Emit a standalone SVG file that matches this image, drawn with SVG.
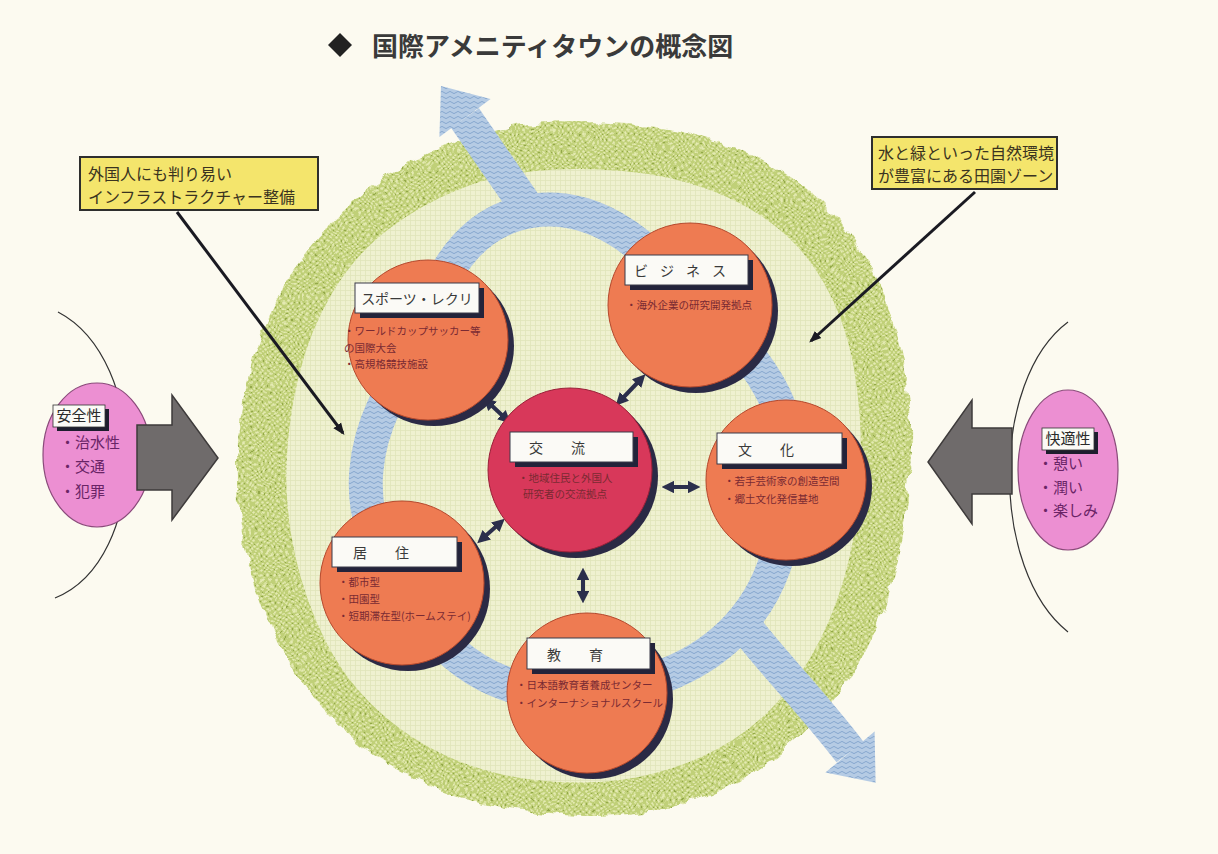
<svg xmlns="http://www.w3.org/2000/svg" width="1218" height="854" viewBox="0 0 1218 854">
<defs>
<pattern id="dots" width="6" height="6" patternUnits="userSpaceOnUse">
<rect width="6" height="6" fill="#c0d078"/>
<circle cx="1.5" cy="1.5" r="1.3" fill="#e4eab2"/>
<circle cx="4.5" cy="4.5" r="1.3" fill="#e4eab2"/>
<circle cx="4.5" cy="1.5" r="0.7" fill="#93a84a"/>
</pattern>
<pattern id="grid" width="5" height="5" patternUnits="userSpaceOnUse">
<rect width="5" height="5" fill="#eff1d0"/>
<path d="M0,0.5H5M0.5,0V5" stroke="#e0e5ba" stroke-width="0.8"/>
</pattern>
<pattern id="wave" width="8" height="5" patternUnits="userSpaceOnUse">
<rect width="8" height="5" fill="#b5cbe4"/>
<path d="M0,2.5 q2,-2.2 4,0 t4,0" fill="none" stroke="#86a7cf" stroke-width="1"/>
</pattern>
<filter id="rough" x="-5%" y="-5%" width="110%" height="110%">
<feTurbulence type="fractalNoise" baseFrequency="0.06" numOctaves="2" seed="3"/>
<feDisplacementMap in="SourceGraphic" scale="12" xChannelSelector="R" yChannelSelector="G"/>
</filter>
<marker id="ah" viewBox="0 0 10 10" refX="5" refY="5" markerWidth="3.2" markerHeight="3.2" orient="auto-start-reverse" markerUnits="strokeWidth">
<path d="M0,0 L10,5 L0,10 Z" fill="#2b2f4c"/>
</marker>
<marker id="ptr" viewBox="0 0 10 10" refX="8" refY="5" markerWidth="4" markerHeight="4" orient="auto" markerUnits="strokeWidth">
<path d="M0,1 L10,5 L0,9 Z" fill="#1a1a22"/>
</marker>
<style>
.jp{font-family:'Noto Sans CJK JP','Noto Sans CJK SC',sans-serif}
.circ{fill:#ee7b52;stroke:#b5482c;stroke-width:1}
.shad{fill:#2b2a45}
.lbl{fill:#fbfaf6;stroke:#3a3a48;stroke-width:1}
.lshad{fill:#23233a}
.lt{font-size:14px;fill:#3a3a3a;text-anchor:middle}
.it{font-size:10.5px;fill:#7a2a32}
.pk{fill:#ec8fd2;stroke:#8a4a7a;stroke-width:1.2}
.pi{font-size:15px;fill:#6a2466}
.pl{font-size:15px;fill:#2a2a2a}
.yb{fill:#f4e56c;stroke:#2e2e2e;stroke-width:2}
.yt{font-size:16px;fill:#3a3320}
.gray{fill:#6f6b6b;stroke:#3e3b3b;stroke-width:1.5}
.river{fill:none;stroke:url(#wave);stroke-width:34;stroke-linecap:butt}
.con{stroke:#2b2f4c;stroke-width:4;marker-start:url(#ah);marker-end:url(#ah)}
.pt{stroke:#1a1a22;stroke-width:3;marker-end:url(#ptr)}
</style>
</defs>
<rect width="1218" height="854" fill="#fcfaf0"/>

<g id="title">
<path d="M340,33 L352,45 L340,57 L328,45 Z" fill="#222"/>
<text class="jp" x="372" y="56" font-size="26" font-weight="600" fill="#3a3a3a">国際アメニティタウンの概念図</text>
</g>

<g id="zone">
<path filter="url(#rough)" fill="url(#dots)" d="M 532.5,124 Q 575,120 627.5,124 Q 680,128 725,144 Q 770,160 805,187.5 Q 840,215 862.5,252.5 Q 885,290 897.5,335 Q 910,380 911,425 Q 912,470 906,515 Q 900,560 885,605 Q 870,650 845,685 Q 820,720 785,750 Q 750,780 705,796 Q 660,812 617.5,815 Q 575,818 527.5,811.5 Q 480,805 435,787.5 Q 390,770 355,740 Q 320,710 295,670 Q 270,630 255,585 Q 240,540 237.5,495 Q 235,450 242.5,405 Q 250,360 267.5,320 Q 285,280 312.5,245 Q 340,210 375,185 Q 410,160 450,144 Q 490,128 532.5,124 Z"/>
<path fill="url(#grid)" d="M 535,171 Q 575,167 622.5,171 Q 670,175 710,190 Q 750,205 780,230 Q 810,255 829,292.5 Q 848,330 855,375 Q 862,420 861,465 Q 860,510 850,555 Q 840,600 820,640 Q 800,680 770,710 Q 740,740 700,757.5 Q 660,775 620,780 Q 580,785 535,780 Q 490,775 450,757.5 Q 410,740 377.5,710 Q 345,680 325,640 Q 305,600 295,555 Q 285,510 286.5,465 Q 288,420 299,375 Q 310,330 332.5,292.5 Q 355,255 387.5,230 Q 420,205 457.5,190 Q 495,175 535,171 Z"/>
</g>

<g id="river">
<path class="river" d="M428,330 C450,190 600,160 690,305"/>
<path class="river" d="M690,305 C760,350 800,420 786,480"/>
<path class="river" d="M786,480 C790,600 720,680 587,693"/>
<path class="river" d="M587,693 C500,700 440,660 402,583"/>
<path class="river" d="M402,583 C350,520 350,430 428,340"/>
<path class="river" d="M530,212 L465,118"/>
<polygon points="441,86 490.6,99.1 439.4,136.9" fill="url(#wave)"/>
<path class="river" d="M740,620 C770,660 810,700 850,752"/>
<polygon points="875.6,782.8 874.6,731.5 825.4,772.5" fill="url(#wave)"/>
</g>

<g id="connectors">
<line class="con" x1="488" y1="402" x2="506" y2="419"/>
<line class="con" x1="620" y1="401" x2="641" y2="379"/>
<line class="con" x1="668" y1="487" x2="694" y2="487"/>
<line class="con" x1="482" y1="539" x2="500" y2="523"/>
<line class="con" x1="583" y1="574" x2="583" y2="597"/>
<line class="pt" x1="177" y1="212" x2="343" y2="433"/>
<line class="pt" x1="975" y1="192" x2="811" y2="341"/>
</g>

<g id="sports">
<circle class="shad" cx="434" cy="346" r="80"/>
<circle class="circ" cx="428" cy="340" r="80"/>
<rect class="lshad" x="360" y="288" width="124" height="30"/>
<rect class="lbl" x="355" y="283" width="124" height="30"/>
<text class="jp lt" x="417" y="304">スポーツ・レクリ</text>
<text class="jp it" x="344" y="335">・ワールドカップサッカー等</text>
<text class="jp it" x="344" y="352">の国際大会</text>
<text class="jp it" x="344" y="368">・高規格競技施設</text>
</g>

<g id="business">
<circle class="shad" cx="696" cy="311" r="82"/>
<circle class="circ" cx="690" cy="305" r="82"/>
<rect class="lshad" x="630" y="260" width="123" height="30"/>
<rect class="lbl" x="625" y="255" width="123" height="30"/>
<text class="jp lt" x="686" y="276" letter-spacing="12">ビジネス</text>
<text class="jp it" x="626" y="309">・海外企業の研究開発拠点</text>
</g>

<g id="exchange">
<circle class="shad" cx="576" cy="476" r="82"/>
<circle cx="570" cy="470" r="82" fill="#d8385a" stroke="#9a2038" stroke-width="1"/>
<rect class="lshad" x="515" y="437" width="123" height="30"/>
<rect class="lbl" x="510" y="432" width="123" height="30"/>
<text class="jp lt" x="571" y="453" letter-spacing="28">交流</text>
<text class="jp it" x="518" y="482">・地域住民と外国人</text>
<text class="jp it" x="523" y="498">研究者の交流拠点</text>
</g>

<g id="culture">
<circle class="shad" cx="792" cy="486" r="80"/>
<circle class="circ" cx="786" cy="480" r="80"/>
<rect class="lshad" x="722" y="438" width="125" height="31"/>
<rect class="lbl" x="717" y="433" width="125" height="31"/>
<text class="jp lt" x="780" y="455" letter-spacing="28">文化</text>
<text class="jp it" x="724" y="485">・若手芸術家の創造空間</text>
<text class="jp it" x="724" y="503">・郷土文化発信基地</text>
</g>

<g id="living">
<circle class="shad" cx="408" cy="589" r="82"/>
<circle class="circ" cx="402" cy="583" r="82"/>
<rect class="lshad" x="337" y="542" width="125" height="30"/>
<rect class="lbl" x="332" y="537" width="125" height="30"/>
<text class="jp lt" x="395" y="558" letter-spacing="28">居住</text>
<text class="jp it" x="338" y="586">・都市型</text>
<text class="jp it" x="338" y="603">・田園型</text>
<text class="jp it" x="338" y="620">・短期滞在型(ホームステイ)</text>
</g>

<g id="education">
<circle class="shad" cx="593" cy="699" r="80"/>
<circle class="circ" cx="587" cy="693" r="80"/>
<rect class="lshad" x="532" y="643" width="123" height="31"/>
<rect class="lbl" x="527" y="638" width="123" height="31"/>
<text class="jp lt" x="589" y="660" letter-spacing="28">教育</text>
<text class="jp it" x="516" y="689">・日本語教育者養成センター</text>
<text class="jp it" x="516" y="707">・インターナショナルスクール</text>
</g>

<g id="safety">
<path d="M58,312 C150,360 150,560 55,598" fill="none" stroke="#333" stroke-width="1.2"/>
<ellipse class="pk" cx="97" cy="455" rx="54" ry="72"/>
<rect x="57" y="409" width="52" height="22" fill="#1e1e2e"/>
<rect x="53" y="405" width="52" height="22" fill="#fbfaf6" stroke="#333" stroke-width="0.8"/>
<text class="jp pl" x="79" y="421" text-anchor="middle">安全性</text>
<text class="jp pi" x="60" y="448">・治水性</text>
<text class="jp pi" x="60" y="472">・交通</text>
<text class="jp pi" x="60" y="497">・犯罪</text>
</g>

<g id="comfort">
<path d="M1068,322 C990,380 990,570 1068,632" fill="none" stroke="#333" stroke-width="1.2"/>
<ellipse class="pk" cx="1068" cy="470" rx="50" ry="80"/>
<rect x="1046" y="432" width="52" height="22" fill="#1e1e2e"/>
<rect x="1042" y="428" width="52" height="22" fill="#fbfaf6" stroke="#333" stroke-width="0.8"/>
<text class="jp pl" x="1068" y="444" text-anchor="middle">快適性</text>
<text class="jp pi" x="1038" y="469">・憩い</text>
<text class="jp pi" x="1038" y="493">・潤い</text>
<text class="jp pi" x="1038" y="516">・楽しみ</text>
</g>

<g id="arrow-left">
<path class="gray" d="M137,425 H172 V395 L218,458 L172,520 V490 H137 Z"/>
</g>
<g id="arrow-right">
<path class="gray" d="M1012,428 H972 V400 L928,462 L972,524 V494 H1012 Z"/>
</g>

<g id="note-left">
<rect class="yb" x="80" y="157" width="238" height="53"/>
<text class="jp yt" x="88" y="180">外国人にも判り易い</text>
<text class="jp yt" x="88" y="203">インフラストラクチャー整備</text>
</g>

<g id="note-right">
<rect class="yb" x="872" y="137" width="185" height="52"/>
<text class="jp yt" x="878" y="159">水と緑といった自然環境</text>
<text class="jp yt" x="878" y="182">が豊富にある田園ゾーン</text>
</g>
</svg>
